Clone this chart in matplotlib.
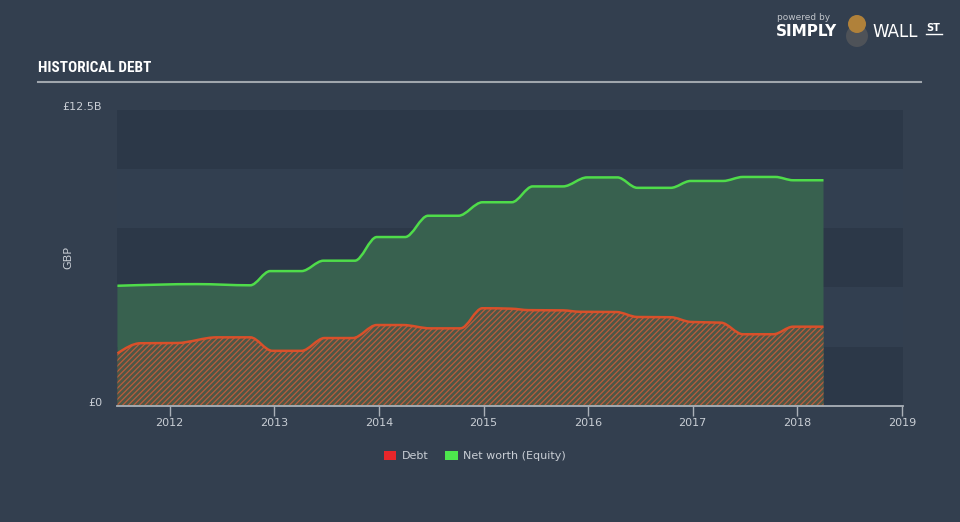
import matplotlib
matplotlib.use("Agg")
import matplotlib.pyplot as plt
from matplotlib import font_manager as fm
from matplotlib import transforms as mtransforms
from matplotlib.path import Path
from matplotlib.patches import PathPatch, Patch, Ellipse
import numpy as np

# Net worth (equity), GBP billions, knots
equity_years = [2011.50, 2012.26, 2012.77, 2012.96, 2013.26, 2013.47, 2013.77,
                2013.98, 2014.25, 2014.47, 2014.76, 2014.99, 2015.27, 2015.47,
                2015.76, 2015.99, 2016.28, 2016.47, 2016.79, 2016.98, 2017.29,
                2017.48, 2017.79, 2017.96, 2018.25]
equity_vals = [5.07, 5.14, 5.09, 5.69, 5.69, 6.13, 6.13,
               7.13, 7.13, 8.03, 8.03, 8.60, 8.60, 9.27,
               9.27, 9.65, 9.65, 9.21, 9.21, 9.50, 9.50,
               9.67, 9.67, 9.53, 9.53]

# Debt, GBP billions
debt_years = [2011.50, 2011.72, 2012.07, 2012.45, 2012.77, 2012.98, 2013.26,
              2013.48, 2013.75, 2013.98, 2014.23, 2014.49, 2014.78, 2014.99,
              2015.27, 2015.43, 2015.76, 2015.92, 2016.27, 2016.47, 2016.79,
              2016.98, 2017.27, 2017.48, 2017.77, 2017.96, 2018.25]
debt_vals = [2.21, 2.64, 2.65, 2.89, 2.89, 2.32, 2.32,
             2.86, 2.86, 3.41, 3.41, 3.27, 3.27, 4.12,
             4.10, 4.04, 4.03, 3.97, 3.96, 3.75, 3.74,
             3.54, 3.51, 3.02, 3.02, 3.34, 3.34]

year_ticks = [2012, 2013, 2014, 2015, 2016, 2017, 2018, 2019]
y_ticks = [0, 12.5]
y_tick_labels = ["£0", "£12.5B"]
legend_labels = ["Debt", "Net worth (Equity)"]

BG = "#333f4f"
BAND_DARK = "#2c3848"
BAND_LIGHT = "#323f50"
TEXT = "#c9ced5"
W, H = 960, 522


def pick_font(names, fallback="DejaVu Sans"):
    for name in names:
        try:
            fm.findfont(fm.FontProperties(family=name), fallback_to_default=False)
            return name
        except ValueError:
            pass
    return fallback


def monotone_path(xs, ys, close_to=None):
    """Smooth monotone-x curve (like d3.curveMonotoneX) as a bezier Path."""
    x = np.asarray(xs, float)
    y = np.asarray(ys, float)
    n = len(x)
    h = np.diff(x)
    s = np.diff(y) / h
    t = np.zeros(n)
    for i in range(1, n - 1):
        p = (s[i - 1] * h[i] + s[i] * h[i - 1]) / (h[i - 1] + h[i])
        t[i] = (np.sign(s[i - 1]) + np.sign(s[i])) * min(abs(s[i - 1]), abs(s[i]), 0.5 * abs(p))
    t[0] = (3 * s[0] - t[1]) / 2
    t[-1] = (3 * s[-1] - t[-2]) / 2
    verts = [(x[0], y[0])]
    codes = [Path.MOVETO]
    for i in range(n - 1):
        dx = h[i] / 3
        verts += [(x[i] + dx, y[i] + dx * t[i]),
                  (x[i + 1] - dx, y[i + 1] - dx * t[i + 1]),
                  (x[i + 1], y[i + 1])]
        codes += [Path.CURVE4] * 3
    if close_to is not None:
        verts += [(x[-1], close_to), (x[0], close_to), (x[0], y[0])]
        codes += [Path.LINETO, Path.LINETO, Path.CLOSEPOLY]
    return Path(verts, codes)


def px_circle(cx, cy, r, color):
    # circle given in pixel coords (top-left origin), drawn in figure fraction
    return Ellipse((cx / W, 1 - cy / H), 2 * r / W, 2 * r / H,
                   transform=fig.transFigure, facecolor=color, edgecolor="none")


title_family = pick_font(["Liberation Sans Narrow", "Roboto Condensed",
                          "Open Sans Condensed", "DejaVu Sans Condensed"])

fig = plt.figure(figsize=(W / 100, H / 100), dpi=100, facecolor=BG)
ax = fig.add_axes([117 / W, 116.3 / H, 786 / W, 295.7 / H])
ax.set_facecolor(BAND_DARK)

# alternating background bands
for k, lo in enumerate(np.arange(0, 12.5, 2.5)):
    ax.axhspan(lo, lo + 2.5, color=BAND_DARK if k % 2 == 0 else BAND_LIGHT,
               lw=0, zorder=0)

# equity area + line
ax.add_patch(PathPatch(monotone_path(equity_years, equity_vals, close_to=0),
                       facecolor="#38614f", edgecolor="none", zorder=1))
ax.add_patch(PathPatch(monotone_path(equity_years, equity_vals),
                       facecolor="none", edgecolor="#4fdc4a", lw=1.8, zorder=4))

# debt area (finely hatched) + line
plt.rcParams["hatch.linewidth"] = 0.9
ax.add_patch(PathPatch(monotone_path(debt_years, debt_vals, close_to=0),
                       facecolor="#4e5746", edgecolor="none", zorder=2))
ax.add_patch(PathPatch(monotone_path(debt_years, debt_vals, close_to=0),
                       facecolor="none", edgecolor="#bb5c3c", hatch="//////",
                       lw=0, zorder=3))
ax.add_patch(PathPatch(monotone_path(debt_years, debt_vals),
                       facecolor="none", edgecolor="#d9502a", lw=1.8, zorder=4))

ax.set_xlim(2011.496, 2019.01)
ax.set_ylim(0, 12.5)

for side in ["top", "right", "left"]:
    ax.spines[side].set_visible(False)
ax.spines["bottom"].set_color("#aab0b8")
ax.spines["bottom"].set_linewidth(1.3)
ax.spines["bottom"].set_zorder(5)

ax.set_xticks(year_ticks)
ax.set_xticklabels([str(y) for y in year_ticks])
ax.tick_params(axis="x", colors="#aab0b8", length=7, width=1, pad=1.5,
               labelsize=8, labelcolor=TEXT)

# y labels only at the ends, drawn a few px above their value
ax.set_yticks([])
ylab_tr = mtransforms.offset_copy(ax.get_yaxis_transform(), fig=fig, x=-15, y=2.5,
                                  units="dots")
for val, lab in zip(y_ticks, y_tick_labels):
    ax.text(0, val, lab, transform=ylab_tr, ha="right", va="center",
            fontsize=8, color=TEXT)
ax.set_ylabel("GBP", color=TEXT, fontsize=8, labelpad=0)
ax.yaxis.set_label_coords(-0.056, 0.5)

# title + rule
fig.text(38 / W, 1 - 68 / H, "HISTORICAL DEBT", color="white", fontsize=11,
         fontweight="bold", family=title_family, fontstretch="condensed",
         va="center", ha="left")
fig.add_artist(plt.Line2D([38 / W, 921 / W], [1 - 81.5 / H] * 2,
                          color="#a0a6ad", lw=1.5))

# logo
fig.text(777 / W, 1 - 18 / H, "powered by", color="#c0c4ca", fontsize=6.5,
         va="center", ha="left")
fig.text(776 / W, 1 - 32 / H, "SIMPLY", color="white", fontsize=11,
         fontweight="bold", va="center", ha="left")
fig.add_artist(px_circle(857, 36, 11, "#4e5258"))
fig.add_artist(px_circle(857, 24, 9, "#b0813a"))
fig.text(872 / W, 1 - 32 / H, "WALL", color="white", fontsize=12,
         va="center", ha="left")
fig.text(926 / W, 1 - 28 / H, "ST", color="white", fontsize=7,
         fontweight="bold", va="center", ha="left")
fig.add_artist(plt.Line2D([926 / W, 942 / W], [1 - 34 / H] * 2,
                          color="white", lw=1))

# legend
handles = [Patch(facecolor="#e8262a", edgecolor="none"),
           Patch(facecolor="#4de64d", edgecolor="none")]
fig.legend(handles, legend_labels, loc="center", bbox_to_anchor=(475 / W, 1 - 456 / H),
           ncol=2, frameon=False, fontsize=8, labelcolor=TEXT,
           handlelength=1.1, handleheight=0.9, handletextpad=0.5, columnspacing=1.5)

fig.savefig("out.png", dpi=100, facecolor=BG)
